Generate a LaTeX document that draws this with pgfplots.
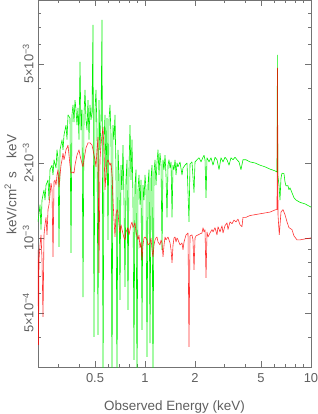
\documentclass[border=0pt]{standalone}
\usepackage{fontspec}
\setmainfont{Liberation Sans}
\usepackage{pgfplots}
\pgfplotsset{compat=1.18}
\definecolor{sgreen}{RGB}{0,240,0}
\definecolor{sred}{RGB}{255,0,0}
\definecolor{txt}{RGB}{95,95,95}
\begin{document}
\begin{tikzpicture}
\path[use as bounding box] (-38bp,-47bp) rectangle (280bp,367bp);
\begin{axis}[
  at={(0,0)}, anchor=south west, scale only axis,
  width=273bp, height=367bp,
  xmode=log, ymode=log,
  xmin=0.2266, xmax=10, ymin=3.03e-4, ymax=9.03e-3,
  axis line style={draw=black!55, line width=0.6pt},
  tick style={draw=black!55, line width=0.5pt},
  tick align=inside,
  major tick length=6bp, minor tick length=3bp,
  xtick={0.5,1,2,5,10}, xticklabels={0.5,1,2,5,10},
  minor xtick={0.3,0.4,0.6,0.7,0.8,0.9,3,4,6,7,8,9},
  ytick={5e-4,1e-3,2e-3,5e-3},
  yticklabels={5×10\textsuperscript{−4},10\textsuperscript{−3},2×10\textsuperscript{−3},5×10\textsuperscript{−3}},
  minor ytick={4e-4,6e-4,7e-4,8e-4,9e-4,3e-3,4e-3,6e-3,7e-3,8e-3,9e-3},
  ticklabel style={font=\fontsize{13}{15}\selectfont, text=txt},
  xticklabel style={yshift=-3bp},
  yticklabel style={rotate=90, anchor=south, yshift=1bp},
  xlabel={Observed Energy (keV)},
  ylabel={keV/cm\textsuperscript{2}\hspace{5bp}s\hspace{14bp}keV},
  label style={font=\fontsize{13.5}{15}\selectfont, text=txt},
  xlabel style={at={(axis description cs:0.5,0)}, anchor=north, yshift=-30bp},
  ylabel style={at={(axis description cs:0,0.497)}, anchor=south, yshift=18bp},
]
\addplot[sgreen, line width=0.6pt, line join=bevel] coordinates {
(0.2266,1.16e-3)(0.2331,1.36e-3)(0.2363,1.08e-3)(0.2396,1.42e-3)(0.2463,1.56e-3)(0.2498,1.42e-3)(0.2533,1.63e-3)(0.2604,1.71e-3)(0.2640,1.42e-3)(0.2677,1.88e-3)(0.2753,1.96e-3)(0.2791,1.79e-3)(0.2830,2.06e-3)(0.2910,1.91e-3)(0.2950,2.26e-3)(0.2991,2.10e-3)(0.3033,0.920e-3)(0.3076,2.26e-3)(0.3162,2.48e-3)(0.3206,2.26e-3)(0.3251,2.59e-3)(0.3342,2.84e-3)(0.3389,2.48e-3)(0.3436,3.12e-3)(0.3533,3.03e-3)(0.3582,0.870e-3)(0.3632,3.12e-3)(0.3683,3.42e-3)(0.3734,2.92e-3)(0.3786,3.58e-3)(0.3839,3.27e-3)(0.3893,2.84e-3)(0.3947,3.33e-3)(0.4002,2.48e-3)(0.4058,5.09e-3)(0.4115,2.71e-3)(0.4172,3.27e-3)(0.4231,0.579e-3)(0.4290,3.12e-3)(0.4350,3.93e-3)(0.4410,2.98e-3)(0.4472,2.71e-3)(0.4534,3.58e-3)(0.4598,2.48e-3)(0.4662,3.42e-3)(0.4727,2.98e-3)(0.4793,3.21e-3)(0.4860,7.17e-3)(0.4928,0.400e-3)(0.4997,3.27e-3)(0.5066,3.93e-3)(0.5137,2.71e-3)(0.5209,0.408e-3)(0.5282,3.58e-3)(0.5355,2.26e-3)(0.5430,2.98e-3)(0.5508,7.51e-3)(0.5585,0.25e-3)(0.5662,2.48e-3)(0.5741,3.12e-3)(0.5821,1.71e-3)(0.5902,3.03e-3)(0.5984,0.982e-3)(0.6068,2.98e-3)(0.6153,3.42e-3)(0.6239,2.59e-3)(0.6326,0.25e-3)(0.6414,2.84e-3)(0.6504,2.48e-3)(0.6595,3.12e-3)(0.6687,1.88e-3)(0.6780,0.25e-3)(0.6875,2.26e-3)(0.6971,1.79e-3)(0.7068,0.564e-3)(0.7167,1.96e-3)(0.7267,1.56e-3)(0.7368,2.36e-3)(0.7471,1.42e-3)(0.7576,0.636e-3)(0.7681,1.71e-3)(0.7789,2.06e-3)(0.7897,0.514e-3)(0.8008,1.88e-3)(0.8120,2.84e-3)(0.8233,1.71e-3)(0.8348,2.48e-3)(0.8465,1.42e-3)(0.8583,0.324e-3)(0.8703,1.63e-3)(0.8825,1.88e-3)(0.8948,0.25e-3)(0.9073,1.56e-3)(0.9200,1.79e-3)(0.9330,1.36e-3)(0.9460,1.71e-3)(0.9592,0.427e-3)(0.9726,1.63e-3)(0.9862,1.42e-3)(1.000,1.79e-3)(1.014,1.56e-3)(1.028,0.333e-3)(1.042,1.63e-3)(1.057,1.88e-3)(1.072,0.378e-3)(1.087,1.74e-3)(1.102,1.96e-3)(1.117,0.25e-3)(1.133,1.84e-3)(1.149,2.06e-3)(1.165,1.63e-3)(1.181,2.02e-3)(1.198,2.26e-3)(1.214,1.79e-3)(1.231,2.19e-3)(1.249,1.96e-3)(1.266,0.895e-3)(1.284,2.06e-3)(1.302,1.88e-3)(1.320,2.15e-3)(1.338,1.79e-3)(1.357,1.21e-3)(1.376,1.96e-3)(1.395,2.06e-3)(1.415,1.91e-3)(1.435,2.02e-3)(1.455,1.21e-3)(1.475,1.96e-3)(1.496,1.88e-3)(1.517,2.06e-3)(1.538,1.79e-3)(1.559,2.00e-3)(1.581,1.93e-3)(1.625,2.02e-3)(1.671,1.79e-3)(1.694,1.91e-3)(1.742,1.96e-3)(1.791,2.00e-3)(1.841,1.16e-3)(1.867,1.98e-3)(1.919,2.02e-3)(1.974,1.52e-3)(2.001,2.02e-3)(2.057,2.06e-3)(2.115,2.10e-3)(2.175,2.02e-3)(2.236,2.11e-3)(2.267,2.15e-3)(2.299,2.06e-3)(2.331,1.45e-3)(2.363,2.10e-3)(2.430,2.02e-3)(2.499,2.10e-3)(2.569,1.96e-3)(2.641,2.11e-3)(2.715,2.06e-3)(2.792,1.88e-3)(2.870,2.10e-3)(2.951,2.02e-3)(3.034,2.11e-3)(3.119,2.06e-3)(3.207,1.96e-3)(3.297,2.10e-3)(3.389,2.06e-3)(3.485,2.11e-3)(3.583,2.06e-3)(3.683,2.02e-3)(3.787,1.88e-3)(3.893,2.06e-3)(4.058,2.06e-3)(4.290,2.02e-3)(4.600,2.00e-3)(4.932,1.96e-3)(5.288,1.93e-3)(5.662,1.89e-3)(6.068,1.86e-3)(6.240,1.84e-3)(6.275,5.43e-3)(6.31,1.79e-3)(6.415,1.63e-3)(6.505,1.42e-3)(6.596,1.74e-3)(6.688,1.82e-3)(6.877,1.81e-3)(6.972,1.68e-3)(7.070,1.62e-3)(7.267,1.62e-3)(7.369,1.56e-3)(7.471,1.59e-3)(7.682,1.52e-3)(7.898,1.45e-3)(8.121,1.42e-3)(8.586,1.39e-3)(9.204,1.37e-3)(10.0,1.33e-3)
};
\addplot[sred, draw opacity=0.8, line width=0.6pt, line join=bevel] coordinates {
(0.2266,0.895e-3)(0.2282,0.372e-3)(0.2298,0.816e-3)(0.2331,0.937e-3)(0.2363,1.028e-3)(0.2396,0.816e-3)(0.2429,0.482e-3)(0.2463,1.028e-3)(0.2498,1.13e-3)(0.2533,1.21e-3)(0.2568,1.028e-3)(0.2604,1.30e-3)(0.2640,1.36e-3)(0.2677,1.49e-3)(0.2715,1.66e-3)(0.2753,1.56e-3)(0.2791,0.839e-3)(0.2830,1.68e-3)(0.2870,1.71e-3)(0.2910,1.63e-3)(0.2950,1.79e-3)(0.2991,1.88e-3)(0.3033,1.60e-3)(0.3076,1.79e-3)(0.3119,1.96e-3)(0.3162,2.06e-3)(0.3206,2.19e-3)(0.3251,2.06e-3)(0.3297,2.15e-3)(0.3342,2.26e-3)(0.3389,2.30e-3)(0.3436,2.36e-3)(0.3484,2.15e-3)(0.3533,1.96e-3)(0.3582,1.82e-3)(0.3683,1.84e-3)(0.3734,1.82e-3)(0.3786,1.96e-3)(0.3893,2.15e-3)(0.4002,2.26e-3)(0.4058,2.15e-3)(0.4115,2.06e-3)(0.4231,1.93e-3)(0.4290,2.06e-3)(0.4410,2.30e-3)(0.4534,2.41e-3)(0.4662,2.41e-3)(0.4793,2.36e-3)(0.4860,2.26e-3)(0.4997,2.06e-3)(0.5066,1.93e-3)(0.5137,2.26e-3)(0.5209,2.54e-3)(0.5282,0.723e-3)(0.5355,2.06e-3)(0.5430,2.36e-3)(0.5508,2.59e-3)(0.5585,2.79e-3)(0.5662,2.26e-3)(0.5741,1.56e-3)(0.5821,1.79e-3)(0.5902,2.02e-3)(0.5984,2.06e-3)(0.6153,1.96e-3)(0.6239,2.00e-3)(0.6326,1.79e-3)(0.6414,1.42e-3)(0.6504,1.18e-3)(0.6595,1.009e-3)(0.6687,1.24e-3)(0.6780,1.30e-3)(0.6875,1.27e-3)(0.6971,1.13e-3)(0.7068,1.047e-3)(0.7167,1.13e-3)(0.7267,1.08e-3)(0.7471,1.00e-3)(0.7576,0.982e-3)(0.7681,1.057e-3)(0.7897,1.10e-3)(0.8008,1.028e-3)(0.8120,1.08e-3)(0.8233,1.13e-3)(0.8348,1.16e-3)(0.8465,1.10e-3)(0.8703,1.15e-3)(0.8825,1.057e-3)(0.9073,0.982e-3)(0.9200,1.028e-3)(0.9330,0.912e-3)(0.9460,0.963e-3)(0.9592,0.816e-3)(0.9726,0.937e-3)(0.9862,1.00e-3)(1.000,1.009e-3)(1.028,0.982e-3)(1.042,0.937e-3)(1.072,0.955e-3)(1.087,1.00e-3)(1.102,0.895e-3)(1.117,0.839e-3)(1.133,0.937e-3)(1.149,0.982e-3)(1.165,1.00e-3)(1.181,1.009e-3)(1.198,0.963e-3)(1.231,0.937e-3)(1.249,0.982e-3)(1.266,0.955e-3)(1.284,0.839e-3)(1.302,0.937e-3)(1.320,1.009e-3)(1.338,0.982e-3)(1.376,1.009e-3)(1.415,0.955e-3)(1.435,0.895e-3)(1.455,0.794e-3)(1.475,0.937e-3)(1.496,1.00e-3)(1.517,1.009e-3)(1.538,0.963e-3)(1.559,1.00e-3)(1.581,0.982e-3)(1.625,0.937e-3)(1.671,0.955e-3)(1.694,0.895e-3)(1.718,0.963e-3)(1.766,1.028e-3)(1.816,1.047e-3)(1.841,0.365e-3)(1.867,1.019e-3)(1.919,1.028e-3)(1.946,0.982e-3)(1.974,0.744e-3)(2.001,1.00e-3)(2.029,1.019e-3)(2.086,1.028e-3)(2.145,1.038e-3)(2.205,1.047e-3)(2.236,1.10e-3)(2.267,1.057e-3)(2.299,1.08e-3)(2.331,0.691e-3)(2.363,1.057e-3)(2.397,1.009e-3)(2.464,1.047e-3)(2.533,1.08e-3)(2.569,1.057e-3)(2.641,1.10e-3)(2.715,1.028e-3)(2.753,1.11e-3)(2.830,1.057e-3)(2.910,1.12e-3)(2.951,1.047e-3)(3.034,1.12e-3)(3.119,1.15e-3)(3.162,1.08e-3)(3.251,1.16e-3)(3.343,1.14e-3)(3.437,1.18e-3)(3.533,1.16e-3)(3.633,1.19e-3)(3.735,1.13e-3)(3.840,1.11e-3)(3.893,1.21e-3)(4.058,1.21e-3)(4.290,1.23e-3)(4.600,1.24e-3)(4.932,1.25e-3)(5.288,1.26e-3)(5.662,1.27e-3)(6.153,1.30e-3)(6.240,1.30e-3)(6.284,4.82e-3)(6.327,1.24e-3)(6.44,1.028e-3)(6.596,1.27e-3)(6.782,1.30e-3)(6.972,1.24e-3)(7.169,1.16e-3)(7.369,1.10e-3)(7.682,1.08e-3)(7.898,1.019e-3)(8.236,0.982e-3)(8.586,0.982e-3)(9.204,0.991e-3)(10.0,1.00e-3)
};
\end{axis}
\end{tikzpicture}
\end{document}
